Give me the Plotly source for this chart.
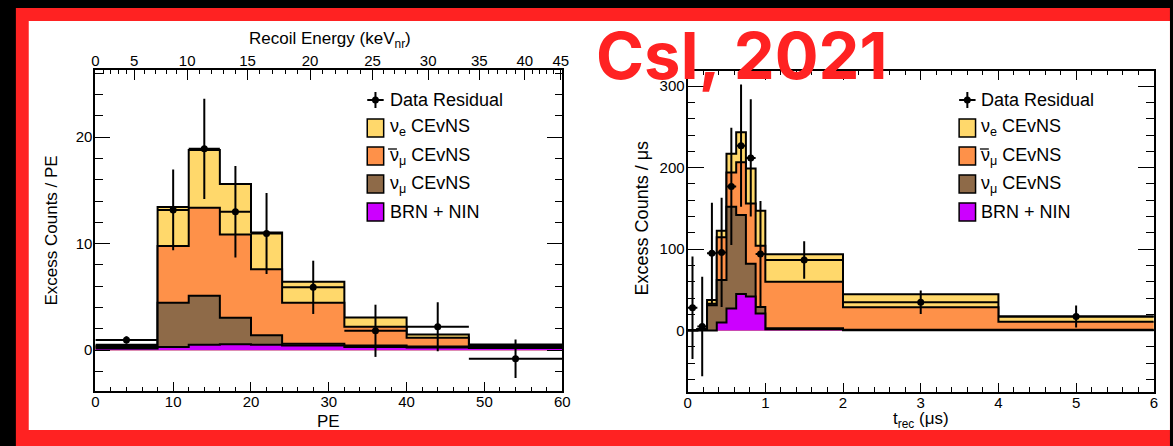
import numpy as np
import plotly.graph_objects as go

W, H = 1173, 446

# ---------------- PE spectrum (left panel) ----------------
pe_edges = [0, 8, 12, 16, 20, 24, 32, 40, 48, 60]
pe_brn = [0.15, 0.30, 0.50, 0.55, 0.50, 0.45, 0.30, 0.25, 0.20]
pe_numu = [0.15, 4.15, 4.60, 2.49, 0.90, 0.15, 0.15, 0.10, 0.10]
pe_numubar = [0.10, 5.33, 8.26, 7.81, 6.20, 3.85, 1.75, 0.81, 0.10]
pe_nue = [0.10, 3.67, 5.44, 4.75, 3.44, 1.98, 0.87, 0.31, 0.13]
pe_data = [0.95, 13.17, 18.9, 13.0, 10.95, 5.9, 1.82, 2.2, -0.8]
pe_data_err = [0.35, 3.8, 4.7, 4.3, 3.8, 2.5, 2.45, 2.3, 1.8]

# recoil-energy scale drawn along the top of the PE panel
kev_labels = [0, 5, 10, 15, 20, 25, 30, 35, 40, 45]
kev_pe_pos = [0.0, 5.0, 11.8, 19.55, 27.59, 35.63, 42.77, 49.34, 55.2, 59.81]

# ---------------- timing spectrum (right panel) ----------------
t_edges = [0, 0.125, 0.25, 0.375, 0.5, 0.625, 0.75, 0.875, 1.0, 2.0, 4.0, 6.0]
t_brn = [0, 0, 0, 10, 27, 45, 42, 21, 1.5, 0.5, 0.5]
t_numu = [0.5, 1.5, 31, 52, 125, 97, 40, 8, 1.5, 0.5, 0.5]
t_numubar = [0, 0, 2, 52.6, 42, 64.6, 74, 75, 57, 27.7, 10]
t_nue = [0, 0, 4.5, 8.1, 23, 36.8, 43, 43, 33.7, 15.9, 6.2]
t_data = [28, 5, 95, 96, 177, 227, 212, 94, 86.7, 34.8, 17.2]
t_data_err = [63, 61, 62, 67, 72, 75, 72, 65, 23, 14.5, 13.5]

# fill colours: BRN+NIN, nu_mu, nu_mu-bar, nu_e
C_BRN = "#cc00ff"
C_NUMU = "#8e6a48"
C_NUMUBAR = "#fe9149"
C_NUE = "#ffd86b"
RED = "#ff2222"
FONT = "Liberation Sans"


def fx(px):
    return px / W


def fy(py):
    return 1 - py / H


fig = go.Figure()


def add_stack(edges, comps, colors, xa, ya):
    cum = np.cumsum(np.array(comps, dtype=float), axis=0)
    for level, col in reversed(list(zip(cum, colors))):
        ys = list(level) + [level[-1]]
        fig.add_trace(go.Scatter(
            x=list(edges), y=ys, mode="lines",
            line=dict(shape="hv", color="black", width=2),
            fill="tozeroy", fillcolor=col,
            xaxis=xa, yaxis=ya, showlegend=False, hoverinfo="skip"))


def add_data(edges, vals, errs, xa, ya):
    e = np.array(edges, dtype=float)
    centers = (e[:-1] + e[1:]) / 2
    half = np.diff(e) / 2
    fig.add_trace(go.Scatter(
        x=centers, y=vals, mode="markers",
        marker=dict(color="black", size=7),
        error_y=dict(type="data", array=errs, color="black", thickness=2, width=0),
        error_x=dict(type="data", array=half, color="black", thickness=2, width=0),
        xaxis=xa, yaxis=ya, showlegend=False, hoverinfo="skip"))


colors = [C_BRN, C_NUMU, C_NUMUBAR, C_NUE]
add_stack(pe_edges, [pe_brn, pe_numu, pe_numubar, pe_nue], colors, "x", "y")
add_data(pe_edges, pe_data, pe_data_err, "x", "y")
add_stack(t_edges, [t_brn, t_numu, t_numubar, t_nue], colors, "x2", "y2")
add_data(t_edges, t_data, t_data_err, "x2", "y2")

# invisible anchor so the recoil-energy axis is drawn
fig.add_trace(go.Scatter(x=[0], y=[0], mode="markers", marker=dict(opacity=0),
                         xaxis="x3", yaxis="y", showlegend=False, hoverinfo="skip"))

tickfont = dict(family=FONT, size=15, color="black")
common = dict(showline=True, linecolor="black", linewidth=2, showgrid=False,
              zeroline=False, ticks="inside", tickcolor="black", tickwidth=1.3,
              tickfont=tickfont)

kev_minor = np.interp(np.arange(0, 46), kev_labels, kev_pe_pos)
kev_minor = [v for k, v in zip(range(46), kev_minor) if k % 5 != 0]

fig.update_layout(
    width=W, height=H,
    margin=dict(l=0, r=0, t=0, b=0),
    paper_bgcolor="black", plot_bgcolor="rgba(0,0,0,0)",
    showlegend=False,
    xaxis=dict(domain=[fx(92.3), fx(564)], range=[0, 60], anchor="y",
               mirror=True, dtick=10, tick0=0, ticklen=9, ticklabelstandoff=-4,
               minor=dict(dtick=2, ticklen=4.5, ticks="inside", tickcolor="black"),
               **common),
    yaxis=dict(domain=[fy(391), fy(70)], range=[-3.83, 26.3], anchor="x",
               mirror="ticks", dtick=10, tick0=0, ticklen=15, ticklabelstandoff=-2,
               minor=dict(dtick=2, ticklen=7.5, ticks="inside", tickcolor="black"),
               **common),
    xaxis3=dict(overlaying="x", side="top", anchor="y", range=[0, 60],
                tickmode="array", tickvals=kev_pe_pos,
                ticktext=[str(k) for k in kev_labels],
                ticks="inside", ticklen=10, tickcolor="black", tickwidth=1.3,
                minor=dict(tickvals=kev_minor, ticklen=4, ticks="inside", tickcolor="black"),
                showline=False, showgrid=False, zeroline=False, tickfont=tickfont),
    xaxis2=dict(domain=[fx(690.7), fx(1161.7)], range=[0, 6], anchor="y2",
                mirror="ticks", dtick=1, tick0=0, ticklen=9, ticklabelstandoff=-4,
                minor=dict(dtick=0.2, ticklen=4.5, ticks="inside", tickcolor="black"),
                **common),
    yaxis2=dict(domain=[fy(391.7), fy(70.7)], range=[-75, 319], anchor="x2",
                mirror="ticks", dtick=100, tick0=0, ticklen=16, ticklabelstandoff=-2,
                minor=dict(dtick=20, ticklen=7.7, ticks="inside", tickcolor="black"),
                **common),
)

# red frame and white page
shapes = [
    dict(type="rect", xref="paper", yref="paper", x0=fx(12), x1=fx(W + 5),
         y0=fy(H + 5), y1=fy(8), fillcolor=RED, line=dict(width=0), layer="below"),
    dict(type="rect", xref="paper", yref="paper", x0=fx(25), x1=fx(W + 5),
         y0=fy(430), y1=fy(21), fillcolor="white", line=dict(width=0), layer="below"),
]

annotations = []


def label(text, x, y, size=17, angle=0, xanchor="center", **kw):
    annotations.append(dict(text=text, x=fx(x), y=fy(y), xref="paper", yref="paper",
                            showarrow=False, textangle=angle, xanchor=xanchor,
                            yanchor="middle",
                            font=dict(family=FONT, size=size, color="black"), **kw))


# axis titles
label("PE", 328, 421)
label("Excess Counts / PE", 47, 231, angle=-90)
label("Recoil Energy (keV<sub>nr</sub>)", 329, 40)
label("t<sub>rec</sub> (μs)", 926, 420)
label("Excess Counts / μs", 645, 218, size=18, angle=-90)

# legends
legend_items = [
    (C_NUE, "ν<sub>e</sub> CEvNS", False),
    (C_NUMUBAR, "ν<sub>μ</sub> CEvNS", True),
    (C_NUMU, "ν<sub>μ</sub> CEvNS", False),
    (C_BRN, "BRN + NIN", False),
]
rows = [128, 156, 184, 212]
for bx in (367, 965):
    cx = bx + 8.3
    # data-residual marker
    shapes.append(dict(type="line", xref="paper", yref="paper",
                       x0=fx(bx), x1=fx(bx + 16.6), y0=fy(100), y1=fy(100),
                       line=dict(color="black", width=2)))
    shapes.append(dict(type="line", xref="paper", yref="paper",
                       x0=fx(cx), x1=fx(cx), y0=fy(92), y1=fy(108),
                       line=dict(color="black", width=2)))
    shapes.append(dict(type="circle", xref="paper", yref="paper",
                       x0=fx(cx - 3.5), x1=fx(cx + 3.5), y0=fy(103.5), y1=fy(96.5),
                       fillcolor="black", line=dict(width=0)))
    label("Data Residual", bx + 20.5, 100, size=18, xanchor="left")
    for (col, txt, bar), ry in zip(legend_items, rows):
        shapes.append(dict(type="rect", xref="paper", yref="paper",
                           x0=fx(bx), x1=fx(bx + 16.6), y0=fy(ry + 9), y1=fy(ry - 9),
                           fillcolor=col, line=dict(color="black", width=1.5)))
        label(txt, bx + 20.5, ry, size=18, xanchor="left")
        if bar:
            shapes.append(dict(type="line", xref="paper", yref="paper",
                               x0=fx(bx + 21), x1=fx(bx + 30), y0=fy(ry - 7), y1=fy(ry - 7),
                               line=dict(color="black", width=1.3)))

# headline
annotations.append(dict(text="<b>CsI, 2021</b>", x=fx(596), y=fy(55), xref="paper",
                        yref="paper", showarrow=False, xanchor="left", yanchor="middle",
                        font=dict(family="Inter", size=65, color=RED, weight=900)))

fig.update_layout(shapes=shapes, annotations=annotations)
fig.write_html("out.html")
